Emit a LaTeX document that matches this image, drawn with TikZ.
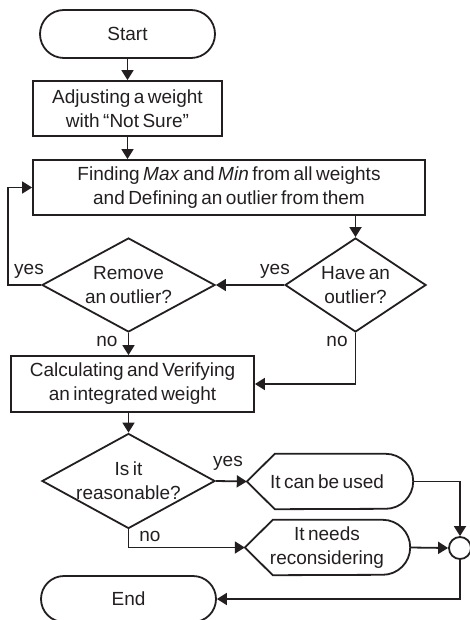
\documentclass[tikz,border=0pt]{standalone}
\usepackage{fontspec}
\setmainfont{Liberation Sans}[WordSpace=0.65]
\usetikzlibrary{shapes.geometric,shapes.misc,arrows.meta,calc}
\definecolor{ink}{HTML}{231F20}
\tikzset{
  every node/.style={font=\fontsize{19}{24}\selectfont, text=ink},
  line/.style={draw=ink, line width=1.8pt},
  arr/.style={line, -{Triangle[length=10pt,width=12pt]}},
  term/.style={rounded rectangle, line, minimum width=175pt, minimum height=48pt, inner sep=0pt},
  proc/.style={rectangle, line, inner sep=0pt, align=center},
  dia/.style={diamond, line, inner sep=0pt},
  disp/.style={inner sep=0pt, align=center, minimum height=55pt},
  lbl/.style={inner sep=0pt}
}
\begin{document}
\begin{tikzpicture}[x=1pt,y=1pt]
\useasboundingbox (0,0) rectangle (469,-620);
% nodes
\node[term] (start) at (127.5,-34) {Start};
\node[proc, minimum width=189pt, minimum height=55pt] (adj) at (127.5,-108.5) {Adjusting a weight\\with “Not Sure”};
\node[proc, minimum width=392pt, minimum height=55pt] (find) at (229,-187.5) {Finding \textit{Max} and \textit{Min} from all weights\\and Defining an outlier from them};
\node[dia, minimum width=141pt, minimum height=94pt] (have) at (355.5,-285) {};
\node[align=center] at (have) {Have an\\outlier?};
\node[dia, minimum width=173pt, minimum height=94pt] (rem) at (128.5,-285) {};
\node[align=center] at (rem) {Remove\\an outlier?};
\node[proc, minimum width=243pt, minimum height=56pt] (calc) at (132.5,-384) {Calculating and Verifying\\an integrated weight};
\node[dia, minimum width=173pt, minimum height=95pt] (isit) at (128.5,-481) {};
\node[align=center] at (isit) {Is it\\reasonable?};
% display shapes
\node[disp, minimum width=166pt] (can) at (330,-481.5) {};
\draw[line] (can.west) -- ($(can.north west)+(28,0)$) -- ($(can.north east)+(-27.5,0)$)
  arc[start angle=90, end angle=-90, radius=27.5] -- ($(can.south west)+(28,0)$) -- cycle;
\node at (327,-481.5) {It can be used};
\node[disp, minimum width=165pt] (need) at (327.5,-547.5) {};
\draw[line] (need.west) -- ($(need.north west)+(28,0)$) -- ($(need.north east)+(-27.5,0)$)
  arc[start angle=90, end angle=-90, radius=27.5] -- ($(need.south west)+(28,0)$) -- cycle;
\node[align=center] at (327,-547.5) {It needs\\reconsidering};
\node[circle, line, minimum size=22pt, inner sep=0pt] (circ) at (460,-548) {};
\node[term, minimum height=46pt] (end) at (128.5,-599) {End};
% connectors
\draw[arr] (start.south) -- (adj.north);
\draw[arr] (adj.south) -- (adj.south |- find.north);
\draw[arr] (have.north |- find.south) -- (have.north);
\draw[arr] (have.west) -- (rem.east);
\node[lbl] at (275,-271) {yes};
\draw[arr] (rem.west) -- (8,-285) |- (find.west);
\node[lbl] at (29,-271) {yes};
\draw[arr] (rem.south) -- (rem.south |- calc.north);
\node[lbl] at (107,-341) {no};
\draw[arr] (have.south) |- (calc.east);
\node[lbl] at (337,-341) {no};
\draw[arr] (isit.north |- calc.south) -- (isit.north);
\draw[arr] (isit.east) -- (can.west);
\node[lbl] at (228,-463) {yes};
\draw[arr] (isit.south) |- (need.west);
\node[lbl] at (150,-536) {no};
\draw[arr] (can.east) -| (circ.north);
\draw[arr] (need.east) -- (circ.west);
\draw[arr] (circ.south) |- (end.east);
\end{tikzpicture}
\end{document}
